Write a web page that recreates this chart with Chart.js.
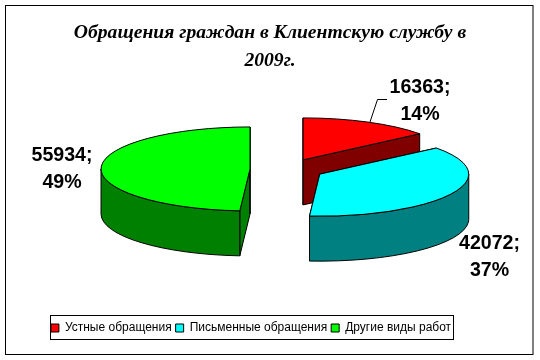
<!DOCTYPE html>
<html>
<head>
<meta charset="utf-8">
<style>
  html, body { margin: 0; padding: 0; background: #fff; }
  #box { position: absolute; left: 0; top: 0; width: 540px; height: 360px; }
</style>
<script src="https://cdn.jsdelivr.net/npm/chart.js@4"></script>
</head>
<body>
<div id="box"><canvas id="myChart" width="540" height="360"></canvas></div>
<script>
const titleLines = ["Обращения граждан в Клиентскую службу в", "2009г."];
const categories = ["Устные обращения", "Письменные обращения", "Другие виды работ"];
const values = [16363, 42072, 55934];
const percents = ["14%", "37%", "49%"];
const topColors = ["#ff0000", "#00ffff", "#00ff00"];
const sideColors = ["#800000", "#008080", "#008000"];
const labelSpots = [[420, 88], [489.5, 244], [62, 156]];

const drawOrder = [0, 2, 1];
const pieX = 287, pieY = 169.3, tilt = 42 / 149, depth = 45, explode = 37;

function sidePath(ctx, pts) {
  ctx.beginPath();
  ctx.moveTo(pts[0][0], pts[0][1]);
  for (let i = 1; i < pts.length; i++) ctx.lineTo(pts[i][0], pts[i][1]);
  ctx.closePath();
  ctx.fill();
  ctx.stroke();
}

// chart.js pies are flat, so tilt each slice and add the walls here
const pie3d = {
  id: "pie3d",
  beforeDatasetDraw(chart, args) {
    const ctx = chart.ctx;
    const arcs = args.meta.data;
    ctx.save();
    ctx.lineWidth = 1;
    ctx.strokeStyle = "#000";
    drawOrder.forEach(function (i) {
      const a = arcs[i];
      const half = (a.startAngle + a.endAngle) / 2;
      const cx = pieX + Math.cos(half) * explode;
      const cy = pieY + Math.sin(half) * explode * tilt;
      const rx = a.outerRadius, ry = rx * tilt;
      const rim = function (ang, dz) { return [cx + rx * Math.cos(ang), cy + ry * Math.sin(ang) + dz]; };

      ctx.fillStyle = sideColors[i];
      [a.startAngle, a.endAngle].forEach(function (ang) {
        sidePath(ctx, [[cx, cy], rim(ang, 0), rim(ang, depth), [cx, cy + depth]]);
      });

      const from = Math.max(a.startAngle, 0), to = Math.min(a.endAngle, Math.PI);
      if (to > from) {
        ctx.beginPath();
        ctx.ellipse(cx, cy, rx, ry, 0, from, to);
        ctx.ellipse(cx, cy + depth, rx, ry, 0, to, from, true);
        ctx.closePath();
        ctx.fill();
        ctx.stroke();
      }

      ctx.save();
      ctx.translate(cx, cy);
      ctx.scale(1, tilt);
      ctx.translate(-a.x, -a.y);
      a.draw(ctx);
      ctx.restore();

      ctx.beginPath();
      ctx.moveTo(cx, cy);
      ctx.ellipse(cx, cy, rx, ry, 0, a.startAngle, a.endAngle);
      ctx.closePath();
      ctx.stroke();
    });
    ctx.restore();
    return false;
  },
  afterLayout(chart) {
    chart.legend.left -= 19;
    chart.legend.right -= 19;
  },
  beforeDraw(chart) {
    const ctx = chart.ctx;
    ctx.save();
    ctx.strokeStyle = "#000";
    ctx.lineWidth = 1;
    ctx.strokeRect(5.5, 5.5, 527.5, 349);
    ctx.strokeRect(50.5, 315.5, 403, 24);
    ctx.restore();
  },
  afterDraw(chart) {
    const ctx = chart.ctx;
    ctx.save();
    ctx.strokeStyle = "#000";
    ctx.lineWidth = 1;
    ctx.beginPath();
    ctx.moveTo(387, 99.5);
    ctx.lineTo(377.5, 99.5);
    ctx.lineTo(370, 122);
    ctx.stroke();
    ctx.fillStyle = "#000";
    ctx.font = "bold 19.6px 'Liberation Sans'";
    ctx.textAlign = "center";
    ctx.textBaseline = "middle";
    values.forEach(function (v, i) {
      ctx.fillText(v + ";", labelSpots[i][0], labelSpots[i][1]);
      ctx.fillText(percents[i], labelSpots[i][0], labelSpots[i][1] + 27);
    });
    ctx.restore();
  }
};

new Chart(document.getElementById("myChart"), {
  type: "pie",
  data: {
    labels: categories,
    datasets: [{
      data: values,
      backgroundColor: topColors,
      borderWidth: 0
    }]
  },
  options: {
    responsive: false,
    animation: false,
    radius: 149,
    layout: { padding: { left: 0, right: 0, top: 0, bottom: 16 } },
    plugins: {
      tooltip: { enabled: false },
      title: {
        display: true,
        text: titleLines,
        color: "#000",
        font: { family: "'Liberation Serif'", size: 19.6, weight: "bold", style: "italic", lineHeight: 1.43 },
        padding: { top: 19, bottom: 0 }
      },
      legend: {
        position: "bottom",
        labels: {
          color: "#000",
          boxWidth: 8,
          boxHeight: 8,
          padding: 4,
          font: { family: "'Liberation Sans'", size: 12 },
          generateLabels(chart) {
            return categories.map(function (c, i) {
              return { text: c, fillStyle: topColors[i], strokeStyle: "#000", lineWidth: 1, index: i };
            });
          }
        }
      }
    }
  },
  plugins: [pie3d]
});
</script>
</body>
</html>
